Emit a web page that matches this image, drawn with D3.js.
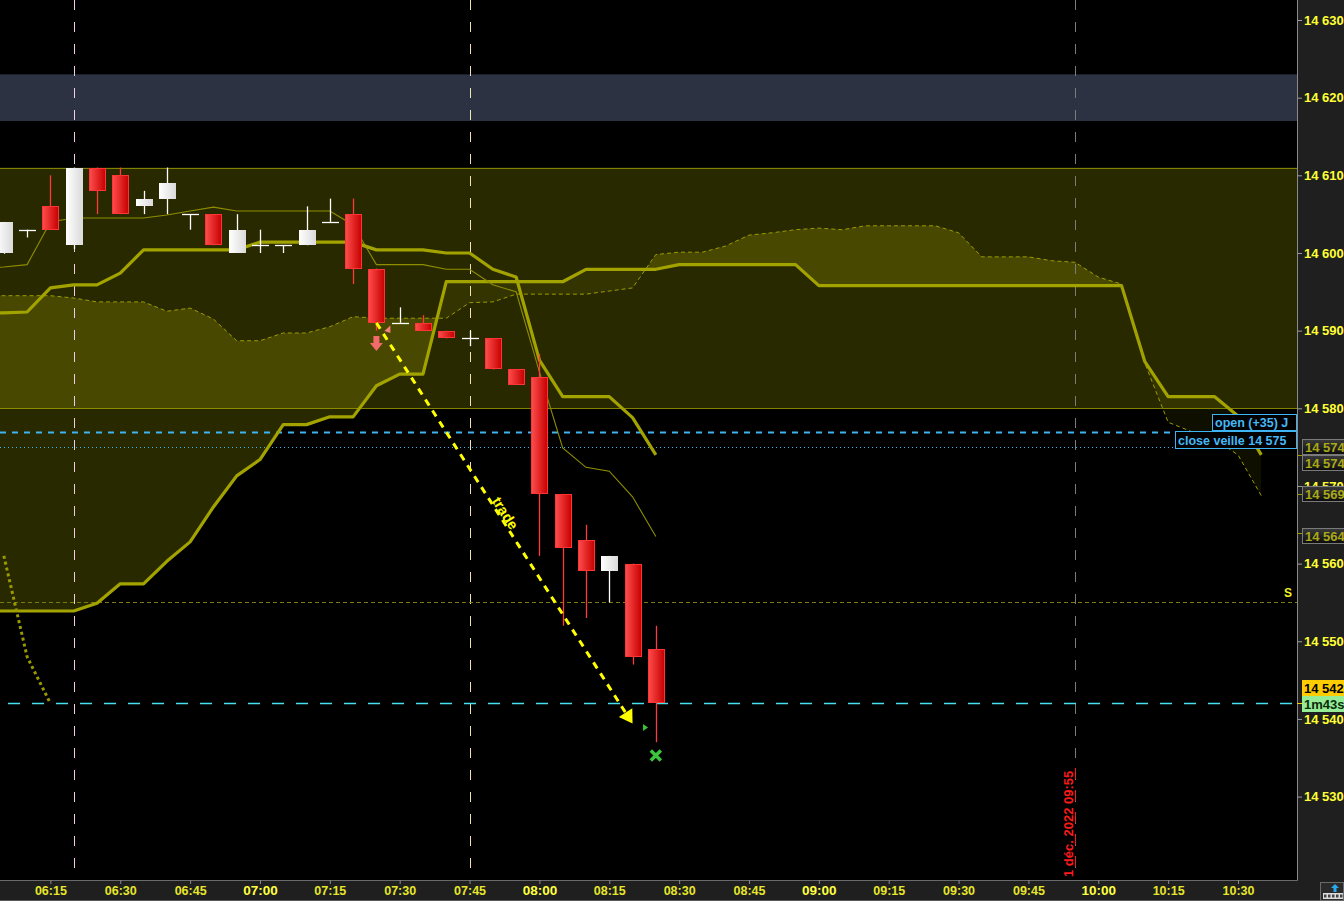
<!DOCTYPE html>
<html><head><meta charset="utf-8">
<script src="https://cdn.jsdelivr.net/npm/d3@7"></script>
<style>html,body{margin:0;padding:0;background:#000;overflow:hidden}svg{display:block}</style>
</head><body><svg id="c" width="1344" height="901"></svg>
<script>
// ---------------- DATA ----------------
const candleTimes = ["06:05","06:10","06:15","06:20","06:25","06:30","06:35","06:40","06:45","06:50","06:55","07:00","07:05","07:10","07:15","07:20","07:25","07:30","07:35","07:40","07:45","07:50","07:55","08:00","08:05","08:10","08:15","08:20","08:25"];
const open  = [14600,14603,14606,14601,14611,14610,14606,14607,14605,14605,14600,14601,14601,14601,14604,14605,14598,14591,14591,14590,14589,14589,14585,14584,14569,14563,14559,14560,14549];
const high  = [14604,14603,14610,14611,14611,14611,14608,14611,14605,14605,14605,14603,14601,14606,14607,14607,14598,14593,14592,14590,14590,14589,14585,14587,14569,14565,14561,14560,14552];
const low   = [14599.9,14602,14603,14600.5,14605,14605,14605,14605,14603,14601,14600,14600,14600,14601,14604,14596,14590,14591,14590,14589,14588,14585,14583,14561,14552,14553,14555,14547,14537];
const close = [14604,14603,14603,14611,14608,14605,14607,14609,14605,14601,14603,14601,14601,14603,14604,14598,14591,14591,14590,14589,14589,14585,14583,14569,14562,14559,14561,14548,14542];

// Tenkan / Kijun (first point 06:00 is just off the left edge)
const lineTimes = ["06:00","06:05","06:10","06:15","06:20","06:25","06:30","06:35","06:40","06:45","06:50","06:55","07:00","07:05","07:10","07:15","07:20","07:25","07:30","07:35","07:40","07:45","07:50","07:55","08:00","08:05","08:10","08:15","08:20","08:25"];
const tenkan = [14598.0,14598.2,14598.5,14604.0,14604.5,14604.5,14604.5,14604.5,14604.9,14605.4,14605.9,14605.4,14605.4,14605.4,14605.4,14605.4,14603.6,14598.5,14598.5,14598.5,14597.9,14597.9,14595.9,14595.0,14584.7,14574.9,14572.4,14571.9,14568.6,14563.5];
const kijun  = [14592.3,14592.3,14592.4,14595.5,14595.9,14595.9,14597.4,14600.4,14600.4,14600.4,14600.4,14600.4,14601.4,14601.4,14601.4,14601.4,14601.4,14600.4,14600.4,14600.4,14600.0,14600.0,14597.9,14596.9,14586.2,14581.5,14581.5,14581.5,14578.8,14574.0];

const cloudTimes = ["06:00","06:05","06:10","06:15","06:20","06:25","06:30","06:35","06:40","06:45","06:50","06:55","07:00","07:05","07:10","07:15","07:20","07:25","07:30","07:35","07:40","07:45","07:50","07:55","08:00","08:05","08:10","08:15","08:20","08:25","08:30","08:35","08:40","08:45","08:50","08:55","09:00","09:05","09:10","09:15","09:20","09:25","09:30","09:35","09:40","09:45","09:50","09:55","10:00","10:05","10:10","10:15","10:20","10:25","10:30","10:35"];
const senkouA = [14594.5,14594.5,14594.5,14594.5,14594.2,14593.7,14593.7,14593.7,14592.5,14592.9,14591.5,14588.7,14588.7,14589.7,14589.7,14590.5,14591.8,14591.6,14591.6,14591.6,14591.6,14593.6,14593.7,14594.7,14594.7,14594.7,14594.7,14595.1,14595.5,14599.8,14600.1,14600.1,14600.9,14602.3,14602.6,14603.0,14603.2,14603.0,14603.5,14603.5,14603.5,14603.5,14602.6,14599.5,14599.5,14599.5,14599.0,14598.8,14596.9,14596.0,14585.8,14578.2,14577.0,14576.0,14574.0,14568.75];
const senkouB = [14553.9,14553.9,14553.9,14553.9,14553.9,14554.9,14557.4,14557.4,14560.3,14562.8,14567.3,14571.3,14573.4,14577.9,14577.9,14578.9,14578.9,14582.9,14584.4,14584.4,14596.3,14596.3,14596.3,14596.3,14596.3,14596.3,14597.9,14597.9,14597.9,14597.9,14598.5,14598.5,14598.5,14598.5,14598.5,14598.5,14595.8,14595.8,14595.8,14595.8,14595.8,14595.8,14595.8,14595.8,14595.8,14595.8,14595.8,14595.8,14595.8,14595.8,14586.0,14581.5,14581.5,14581.5,14579.0,14574.0];

const chikouTimes = ["06:05","06:10","06:15"];
const chikou = [14561,14548,14542];

const xTickLabels = ["06:15","06:30","06:45","07:00","07:15","07:30","07:45","08:00","08:15","08:30","08:45","09:00","09:15","09:30","09:45","10:00","10:15","10:30"];
const yTicks = [14530,14540,14550,14560,14570,14580,14590,14600,14610,14620,14630];

const greyBand = [14617, 14623];
const zone = [14580, 14611];
const openLevel = 14577, openText = "open (+35) J";
const closeVeille = 14575, closeText = "close veille 14 575";
const sLevel = 14555;
const lastPrice = 14542, timerText = "1m43s";
const vLines = [{t:"06:20", c:"#efcde6"}, {t:"07:45", c:"#f6e2b0"}, {t:"09:55", c:"#7c7c7c"}];
const dateLabel = "1 déc. 2022 09:55", dateTime = "09:55";
const trade = {t0:"07:25", p0:14591, t1:"08:20", p1:14539.4, label:"trade"};
const sellArrow = {t:"07:25", p:14589.3};
const entryMark = {t:"07:28", p:14590.2};
const exitMark = {t:"08:22:15", p:14538.9};
const crossMark = {t:"08:25", p:14535.3};
const axisBoxes = [{p:14574, label:"14 574", yc:14575}, {p:14574, label:"14 574", yc:14573}, {p:14569, label:"14 569", yc:14569}, {p:14564, label:"14 564", yc:14563.5}];

// ---------------- SETUP ----------------
const PR = 1297, PB = 880;
const tm = s => { const [h,m,se] = s.split(":").map(Number); return new Date(Date.UTC(2022,11,1,h,m,se||0)); };
const x = d3.scaleUtc().domain([tm("06:15"), tm("10:30")]).range([50.4, 1238]);
const y = d3.scaleLinear().domain([14530, 14630]).range([796.6, 20]);
const loc = d3.formatLocale({decimal:",", thousands:" ", grouping:[3], currency:["",""]});
const fmtP = loc.format(",d");
const FONT = "'Liberation Sans', Arial, sans-serif";

const svg = d3.select("#c");
const defs = svg.append("defs");
defs.append("clipPath").attr("id","plot").append("rect").attr("width",PR).attr("height",PB);
const rg = defs.append("linearGradient").attr("id","redG");
rg.append("stop").attr("offset","0%").attr("stop-color","#ff4d4d");
rg.append("stop").attr("offset","100%").attr("stop-color","#c60000");
const wg = defs.append("linearGradient").attr("id","whiteG");
wg.append("stop").attr("offset","0%").attr("stop-color","#ffffff");
wg.append("stop").attr("offset","100%").attr("stop-color","#dadada");
const bg = defs.append("linearGradient").attr("id","boxG").attr("x1",0).attr("y1",0).attr("x2",0).attr("y2",1);
bg.append("stop").attr("offset","0%").attr("stop-color","#3a3a3a");
bg.append("stop").attr("offset","100%").attr("stop-color","#0c0c0c");

svg.append("rect").attr("width",1344).attr("height",901).attr("fill","#000");
const g = svg.append("g").attr("clip-path","url(#plot)");

// grey band
g.append("rect").attr("x",0).attr("width",PR).attr("y",y(greyBand[1])).attr("height",y(greyBand[0])-y(greyBand[1])).attr("fill","#2d3242");

// zone
const FILL = "rgba(170,168,0,0.245)";
g.append("rect").attr("x",0).attr("width",PR).attr("y",y(zone[1])).attr("height",y(zone[0])-y(zone[1])).attr("fill",FILL);
zone.forEach(p => g.append("line").attr("x1",0).attr("x2",PR).attr("y1",Math.round(y(p))+0.5).attr("y2",Math.round(y(p))+0.5).attr("stroke","#828200").attr("stroke-width",1));

// cloud
const cl = cloudTimes.map((t,i)=>({t:tm(t), a:senkouA[i], b:senkouB[i]}));
defs.append("clipPath").attr("id","aboveB").append("path").attr("d", d3.area().x(d=>x(d.t)).y0(0).y1(d=>y(d.b))(cl));
defs.append("clipPath").attr("id","belowB").append("path").attr("d", d3.area().x(d=>x(d.t)).y0(d=>y(d.b)).y1(PB)(cl));
g.append("g").attr("clip-path","url(#aboveB)").append("path").attr("d", d3.area().x(d=>x(d.t)).y0(d=>y(d.a)).y1(PB)(cl)).attr("fill",FILL);
g.append("g").attr("clip-path","url(#belowB)").append("path").attr("d", d3.area().x(d=>x(d.t)).y0(0).y1(d=>y(d.a))(cl)).attr("fill","rgba(170,168,0,0.09)");

// vertical dashed lines
vLines.forEach(v => {
  const xx = Math.round(x(tm(v.t)))+0.5;
  g.append("line").attr("x1",xx).attr("x2",xx).attr("y1",0).attr("y2",PB).attr("stroke",v.c).attr("stroke-width",1).attr("stroke-dasharray","10,12");
});
{
  const xx = Math.round(x(tm(dateTime)))+0.5;
  g.append("line").attr("x1",xx).attr("x2",xx).attr("y1",768).attr("y2",PB-2).attr("stroke","#ff1a1a").attr("stroke-width",1).attr("stroke-dasharray","11,11");
  g.append("text").attr("transform",`translate(${xx-3},877) rotate(-90)`).attr("font-family",FONT).attr("font-size",13).attr("font-weight","bold").attr("fill","#ff1a1a").text(dateLabel);
}

// horizontal level lines
const hl = (p, c, w, dash, x0=0) => g.append("line").attr("x1",x0).attr("x2",PR).attr("y1",Math.round(y(p))+0.5).attr("y2",Math.round(y(p))+0.5).attr("stroke",c).attr("stroke-width",w).attr("stroke-dasharray",dash);
hl(openLevel, "#3fb4f2", 2, "6,6");
hl(closeVeille, "#3fb4f2", 1, "1,3");
hl(sLevel, "#7a7a10", 1, "4,3");
hl(lastPrice, "#44e2ee", 1.5, "12,12", 8);
g.append("text").attr("x",1292).attr("y",y(sLevel)-5).attr("text-anchor","end").attr("font-family",FONT).attr("font-size",12).attr("font-weight","bold").attr("fill","#f0f020").text("S");

// ichimoku lines
const ck = lineTimes.map((t,i)=>({t:tm(t), tk:tenkan[i], kj:kijun[i]}));
g.append("path").attr("d", d3.line().x(d=>x(d.t)).y(d=>y(d.b))(cl)).attr("fill","none").attr("stroke","#a3a300").attr("stroke-width",3.2).attr("stroke-linejoin","round");
g.append("path").attr("d", d3.line().x(d=>x(d.t)).y(d=>y(d.a))(cl)).attr("fill","none").attr("stroke","#9c9c00").attr("stroke-width",1).attr("stroke-dasharray","4,3");
g.append("path").attr("d", d3.line().x(d=>x(d.t)).y(d=>y(d.tk))(ck)).attr("fill","none").attr("stroke","#8e8e00").attr("stroke-width",1.1);
g.append("path").attr("d", d3.line().x(d=>x(d.t)).y(d=>y(d.kj))(ck)).attr("fill","none").attr("stroke","#a3a300").attr("stroke-width",3.2).attr("stroke-linejoin","round");
g.append("path").attr("d", d3.line().x((d,i)=>x(tm(chikouTimes[i]))).y(d=>y(d))(chikou)).attr("fill","none").attr("stroke","#9a9a00").attr("stroke-width",3).attr("stroke-dasharray","3,3");

// candles
const BW = 17;
candleTimes.forEach((t,i) => {
  const cx = Math.round(x(tm(t)));
  const up = close[i] > open[i], doji = close[i] === open[i];
  const col = (up || doji) ? "#ffffff" : "#ff3a3a";
  g.append("line").attr("x1",cx+0.5).attr("x2",cx+0.5).attr("y1",y(high[i])).attr("y2",y(low[i])).attr("stroke",col).attr("stroke-width",1.3);
  if (doji) {
    g.append("line").attr("x1",cx-8).attr("x2",cx+9).attr("y1",Math.round(y(open[i]))+0.5).attr("y2",Math.round(y(open[i]))+0.5).attr("stroke","#ffffff").attr("stroke-width",1.3);
  } else {
    const yt = Math.round(y(Math.max(open[i],close[i]))), yb = Math.round(y(Math.min(open[i],close[i])));
    const r = g.append("rect").attr("x",cx-8).attr("width",BW).attr("y",yt).attr("height",yb-yt);
    if (up) r.attr("fill","url(#whiteG)");
    else r.attr("x",cx-7.5).attr("y",yt+0.5).attr("width",BW-1).attr("height",yb-yt-1).attr("fill","url(#redG)").attr("stroke","#ff3535").attr("stroke-width",1);
  }
});

// markers
{
  const ax = x(tm(sellArrow.t)), ay = y(sellArrow.p);
  g.append("path").attr("d",`M${ax-3},${ay} h6 v7 h3.5 l-6.5,8 l-6.5,-8 h3.5 Z`).attr("fill","#f26a6a");
  const ex = x(tm(entryMark.t)), ey = y(entryMark.p);
  g.append("path").attr("d",`M${ex},${ey-3.5} L${ex},${ey+4} L${ex-6},${ey+2} Z`).attr("fill","#f58080");
  const gx = x(tm(exitMark.t)), gy = y(exitMark.p);
  g.append("path").attr("d",`M${gx},${gy-3.5} L${gx+5},${gy} L${gx},${gy+3.5} Z`).attr("fill","#3cc43c");
  const kx = x(tm(crossMark.t)), ky = y(crossMark.p);
  g.append("path").attr("d",`M${kx-5},${ky-5} L${kx+5},${ky+5} M${kx+5},${ky-5} L${kx-5},${ky+5}`).attr("stroke","#3cc43c").attr("stroke-width",3.5);
}
// trade arrow
{
  const x0 = x(tm(trade.t0)), y0 = y(trade.p0), x1 = x(tm(trade.t1)), y1 = y(trade.p1);
  const L = Math.hypot(x1-x0, y1-y0), ux = (x1-x0)/L, uy = (y1-y0)/L;
  const bx = x1 - ux*13, by = y1 - uy*13;
  g.append("line").attr("x1",x0).attr("y1",y0).attr("x2",bx).attr("y2",by).attr("stroke","#ffff00").attr("stroke-width",3).attr("stroke-dasharray","7,6");
  g.append("path").attr("d",`M${x1},${y1} L${bx - uy*8},${by + ux*8} L${bx + uy*8},${by - ux*8} Z`).attr("fill","#ffff00");
  const ang = Math.atan2(y1-y0, x1-x0)*180/Math.PI;
  const mx = (x0+x1)/2 - ux*8 + uy*1, my = (y0+y1)/2 - uy*8 - ux*1;
  g.append("text").attr("transform",`translate(${mx},${my}) rotate(${ang})`).attr("text-anchor","middle").attr("font-family",FONT).attr("font-size",14.5).attr("font-weight","bold").attr("fill","#ffff00").text(trade.label);
}

// level label boxes (inside plot, right edge)
{
  const b1 = svg.append("g");
  b1.append("rect").attr("x",1212.5).attr("y",414.5).attr("width",84).attr("height",16).attr("fill","#000").attr("stroke","#3fb4f2");
  b1.append("text").attr("x",1215).attr("y",427).attr("font-family",FONT).attr("font-size",12.5).attr("font-weight","bold").attr("fill","#45b8f5").text(openText);
  b1.append("rect").attr("x",1175.5).attr("y",431.5).attr("width",121).attr("height",17).attr("fill","#000").attr("stroke","#3fb4f2");
  b1.append("text").attr("x",1178).attr("y",444.5).attr("font-family",FONT).attr("font-size",12.5).attr("font-weight","bold").attr("fill","#45b8f5").text(closeText);
}

// ---------------- AXES ----------------
svg.append("rect").attr("x",PR).attr("y",0).attr("width",1344-PR).attr("height",PB).attr("fill","#1f1f1f");
svg.append("rect").attr("x",0).attr("y",PB).attr("width",1344).attr("height",901-PB).attr("fill","#1f1f1f");
svg.append("line").attr("x1",PR+0.5).attr("x2",PR+0.5).attr("y1",0).attr("y2",PB+0.5).attr("stroke","#8a8a8a");
svg.append("line").attr("x1",0).attr("x2",PR+0.5).attr("y1",PB+0.5).attr("y2",PB+0.5).attr("stroke","#6a6a6a");
svg.append("line").attr("x1",0).attr("x2",1344).attr("y1",900.5).attr("y2",900.5).attr("stroke","#5a5a5a");

const ya = svg.append("g").attr("transform",`translate(${PR},0)`).call(d3.axisRight(y).tickValues(yTicks).tickSize(5).tickPadding(2).tickFormat(fmtP));
ya.select(".domain").remove();
ya.selectAll("line").attr("stroke","#9a9a9a");
ya.selectAll("text").attr("font-family",FONT).attr("font-size",13).attr("font-weight","bold").attr("fill","#ffff33");

const xa = svg.append("g").attr("transform",`translate(0,${PB})`).call(d3.axisBottom(x).tickValues(xTickLabels.map(tm)).tickSize(4).tickPadding(2).tickFormat(d3.utcFormat("%H:%M")));
xa.select(".domain").remove();
xa.selectAll("line").attr("stroke","#8a8a8a");
xa.selectAll("text").attr("font-family",FONT).attr("dy",null).attr("y",15)
  .attr("font-size",d=>d.getUTCMinutes()===0?13.5:12.5).attr("font-weight","bold")
  .attr("fill",d=>d.getUTCMinutes()===0?"#ffff40":"#e6e62a");

// axis boxes
axisBoxes.forEach(b => {
  const yc = y(b.yc);
  svg.append("line").attr("x1",PR).attr("x2",PR+5).attr("y1",Math.round(y(b.p))+0.5).attr("y2",Math.round(y(b.p))+0.5).attr("stroke","#9a9a00");
  svg.append("rect").attr("x",1302.5).attr("y",Math.round(yc-8)+0.5).attr("width",44).attr("height",15).attr("fill","url(#boxG)").attr("stroke","#7a7a7a");
  svg.append("text").attr("x",1305).attr("y",Math.round(yc)+5).attr("font-family",FONT).attr("font-size",13).attr("font-weight","bold").attr("fill","#a8a818").text(b.label);
});
{
  const yc = y(lastPrice);
  svg.append("line").attr("x1",PR).attr("x2",PR+5).attr("y1",Math.round(yc)+0.5).attr("y2",Math.round(yc)+0.5).attr("stroke","#ffd000");
  svg.append("rect").attr("x",1302).attr("y",Math.round(yc)-23).attr("width",42).attr("height",16).attr("fill","#ffcc00");
  svg.append("text").attr("x",1304).attr("y",Math.round(yc)-10).attr("font-family",FONT).attr("font-size",13).attr("font-weight","bold").attr("fill","#000").text(fmtP(lastPrice));
  svg.append("rect").attr("x",1302).attr("y",Math.round(yc)-7).attr("width",42).attr("height",16).attr("fill","#96ec96");
  svg.append("text").attr("x",1304).attr("y",Math.round(yc)+6).attr("font-family",FONT).attr("font-size",13).attr("font-weight","bold").attr("fill","#0a2a0a").text(timerText);
}
// corner icon
{
  const ic = svg.append("g");
  ic.append("rect").attr("x",1320.5).attr("y",882.5).attr("width",23).attr("height",18).attr("fill","#2a2a2a").attr("stroke","#6a6a6a");
  ic.append("path").attr("d","M1335,884 l-4,4 h2.5 v4 h3 v-4 h2.5 Z").attr("fill","#29a8f0");
  ic.append("rect").attr("x",1323).attr("y",893).attr("width",20).attr("height",6).attr("fill","#dcdcdc");
  [0,1,2,3,4].forEach(k=>ic.append("rect").attr("x",1324+k*4).attr("y",894.5).attr("width",2.5).attr("height",3).attr("fill","#444"));
}
</script></body></html>
